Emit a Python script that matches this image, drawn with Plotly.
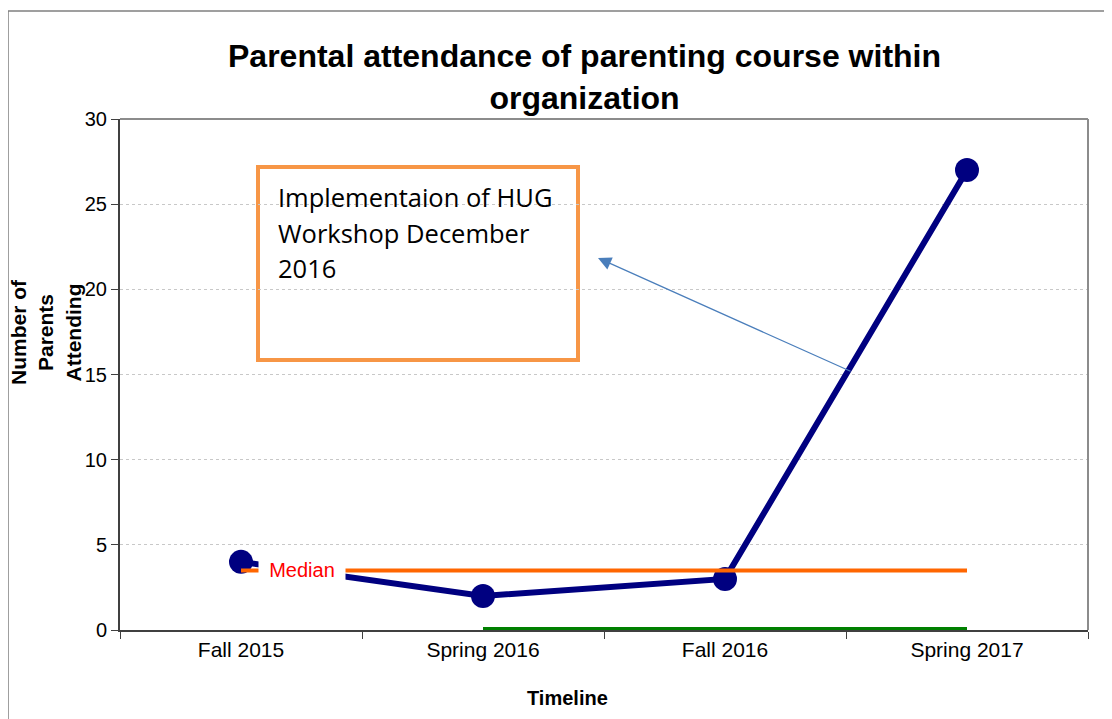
import plotly.graph_objects as go

categories = ["Fall 2015", "Spring 2016", "Fall 2016", "Spring 2017"]
parents = [4, 2, 3, 27]
median = [3.5, 3.5, 3.5, 3.5]
baseline = [None, 0, 0, 0]
y_ticks = [0, 5, 10, 15, 20, 25, 30]

OFF = 8  # page body margin
W, H = 1112 - OFF, 719 - OFF
L, R, T, B = 120 - OFF, 1088 - OFF, 119 - OFF, 630 - OFF


def px(x):
    return (x - OFF - L) / (R - L)


def py(y):
    return (B - (y - OFF)) / (B - T)


fig = go.Figure()
fig.add_trace(go.Scatter(x=categories, y=parents, mode="lines+markers",
                         line=dict(color="#000080", width=6),
                         marker=dict(color="#000080", size=24),
                         cliponaxis=False, showlegend=False))
fig.add_trace(go.Scatter(x=categories, y=median, mode="lines",
                         line=dict(color="#FF6600", width=4),
                         cliponaxis=False, showlegend=False))
fig.add_trace(go.Scatter(x=categories, y=baseline, mode="lines",
                         line=dict(color="#008000", width=6),
                         cliponaxis=False, showlegend=False))

shapes = [
    # outer frame
    dict(type="rect", xref="paper", yref="paper", x0=px(8), x1=px(1125),
         y0=py(730), y1=py(11), line=dict(color="#808080", width=1.5)),
    # top and right plot borders
    dict(type="line", xref="paper", yref="paper", x0=0, x1=1, y0=1, y1=1,
         line=dict(color="#8c8c8c", width=2)),
    dict(type="line", xref="paper", yref="paper", x0=1, x1=1, y0=0, y1=1,
         line=dict(color="#8c8c8c", width=2)),
    # annotation box
    dict(type="rect", xref="paper", yref="paper", x0=px(258), x1=px(578),
         y0=py(360), y1=py(167), line=dict(color="#F79646", width=4),
         fillcolor="white", layer="below"),
]

annotations = [
    dict(text="<b>Parental attendance of parenting course within<br>organization</b>",
         xref="paper", yref="paper", x=px(584), y=py(77), showarrow=False,
         xanchor="center", yanchor="middle",
         font=dict(family="Liberation Sans, Arial", size=32, color="black")),
    dict(text="<b>Timeline</b>", xref="paper", yref="paper", x=px(567), y=py(698),
         showarrow=False, xanchor="center", yanchor="middle",
         font=dict(family="Liberation Sans, Arial", size=20, color="black")),
    dict(text="<b>Number of<br>Parents<br>Attending</b>", xref="paper", yref="paper",
         x=px(46), y=py(332), showarrow=False, textangle=-90,
         xanchor="center", yanchor="middle",
         font=dict(family="Liberation Sans, Arial", size=21, color="black")),
    dict(text="Median", xref="x", yref="y", x=0.25, y=3.5, showarrow=False,
         xanchor="center", yanchor="middle", bgcolor="white", width=86, height=24,
         borderpad=0, font=dict(family="Liberation Sans, Arial", size=20, color="#FF0000")),
    # arrow
    dict(text="", xref="paper", yref="paper", x=px(598), y=py(258),
         ax=852 - 598, ay=372 - 258, showarrow=True, arrowhead=2, arrowsize=2.2,
         arrowwidth=1.2, arrowcolor="#4A7EBB"),
]

box_lines = ["Implementaion of HUG", "Workshop December", "2016"]
line_y = [197, 233, 268]
for t, yy in zip(box_lines, line_y):
    annotations.append(dict(text=t, xref="paper", yref="paper", x=px(276), y=py(yy),
                            showarrow=False, xanchor="left", yanchor="middle",
                            font=dict(family="Open Sans", size=25.5, color="black")))

fig.update_layout(
    width=W, height=H,
    margin=dict(l=L, r=W - R, t=T, b=H - B),
    paper_bgcolor="white", plot_bgcolor="white",
    shapes=shapes, annotations=annotations,
    font=dict(family="Liberation Sans, Arial", size=20, color="black"),
    xaxis=dict(type="category", range=[-0.5, 3.5], tickson="boundaries",
               ticks="outside", ticklen=7, tickcolor="#404040", tickwidth=1,
               showline=True, linecolor="#404040", linewidth=2, showgrid=False,
               tickfont=dict(size=21), zeroline=False, layer="below traces"),
    yaxis=dict(range=[0, 30], tickvals=y_ticks, ticks="outside", ticklen=7,
               tickcolor="#404040", tickwidth=1, showline=True, linecolor="#404040",
               linewidth=2, showgrid=True, gridcolor="#c8c8c8", griddash="dot",
               gridwidth=1, zeroline=False, tickfont=dict(size=20),
               layer="below traces"),
)

fig.write_html("out.html")
